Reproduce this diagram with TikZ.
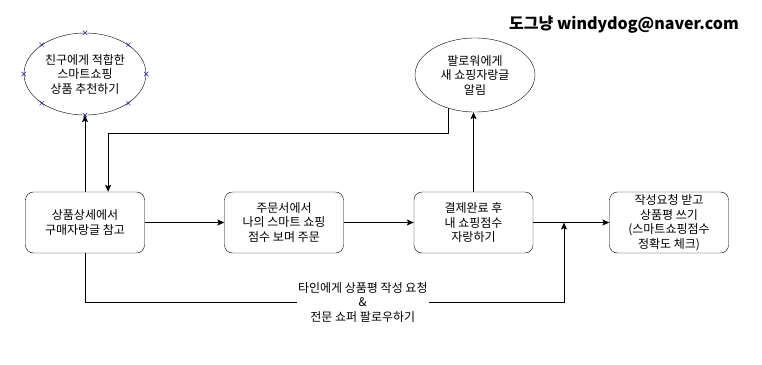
\documentclass[tikz,border=0pt]{standalone}
\usepackage{fontspec}
\setmainfont{Noto Sans CJK KR}
\usetikzlibrary{shapes.geometric, arrows.meta}
\definecolor{HandleBlue}{HTML}{1F1F8F}

\begin{document}
\begin{tikzpicture}[x=1pt, y=-1pt, node distance=199pt, >={Stealth[length=7pt, width=6pt, inset=1.5pt]},
    every node/.style={font=\fontsize{12}{14.5}\selectfont, align=center},
    box/.style={draw, rectangle, rounded corners=8pt, minimum width=119pt, minimum height=61pt, inner sep=1pt},
    bubble/.style={draw, ellipse, inner sep=0pt},
    flow/.style={->, line width=0.8pt}]
            \useasboundingbox (0,0) rectangle (762,364);
            \node [font=\bfseries\fontsize{16}{18}\selectfont] (author) at (624,25) {도그냥 windydog@naver.com};

            \node [box] (detail) at (85,222.5) {상품상세에서\\구매자랑글 참고};
            \node [box, right of=detail] (order) {주문서에서\\나의 스마트 쇼핑\\점수 보며 주문};
            \node [box, right of=order, node distance=189.5pt] (paid) {결제완료 후\\내 쇼핑점수\\자랑하기};
            \node [box, right of=paid, node distance=195.5pt] (review) {작성요청 받고\\상품평 쓰기\\(스마트쇼핑점수\\정확도 체크)};

            \node [bubble, minimum width=122pt, minimum height=82pt] (recommend) at (85,74) {친구에게 적합한\\스마트쇼핑\\상품 추천하기};
            \node [bubble, minimum width=120pt, minimum height=74pt] (notify) at (475,75) {팔로워에게\\새 쇼핑자랑글\\알림};
            \foreach \a in {north, north east, east, south east, south, south west, west, north west}
                \draw [HandleBlue, line width=0.5pt] (recommend.\a) +(-2.2,-2.2) -- +(2.2,2.2) +(-2.2,2.2) -- +(2.2,-2.2);

            \coordinate (join) at (564,222.5);
            \draw [flow] (detail) -- (order);
            \draw [flow] (order) -- (paid);
            \draw [flow] (paid) -- (review);
            \draw [flow] (detail.north) -- (recommend.south);
            \draw [flow] (paid.north) -- (paid.north |- notify.south);
            \draw [flow] (notify.231) -- ++(0,25) -| (detail.53);
            \draw [flow] (detail.south) -- ++(0,49) -| node [pos=0.29, fill=white, inner sep=1pt] {타인에게 상품평 작성 요청\\\&\\전문 쇼퍼 팔로우하기} (join);
        \end{tikzpicture}
\end{document}
